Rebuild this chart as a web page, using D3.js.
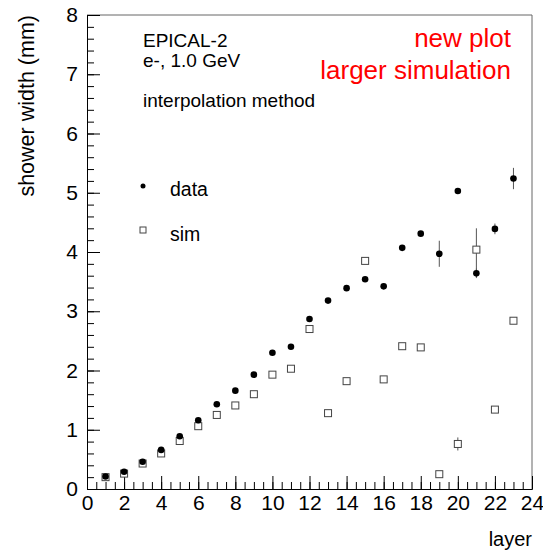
<!DOCTYPE html>
<html><head><meta charset="utf-8">
<script src="https://cdn.jsdelivr.net/npm/d3@7"></script>
<style>body{margin:0;background:#fff}svg{display:block;font-family:"Liberation Sans",Arial,sans-serif}</style>
</head><body><svg id="c" width="543" height="550"></svg>
<script>
const layers = [1,2,3,4,5,6,7,8,9,10,11,12,13,14,15,16,17,18,19,20,21,22,23];
const dataVals = [0.21,0.29,0.46,0.66,0.89,1.16,1.43,1.66,1.93,2.30,2.40,2.87,3.18,3.39,3.54,3.42,4.07,4.31,3.97,5.03,3.64,4.39,5.24];
const dataErr  = [0.01,0.01,0.01,0.01,0.01,0.01,0.01,0.01,0.01,0.01,0.01,0.01,0.01,0.01,0.01,0.01,0.01,0.01,0.22,0.01,0.08,0.09,0.18];
const simVals  = [0.20,0.26,0.43,0.60,0.81,1.06,1.25,1.41,1.60,1.93,2.03,2.70,1.28,1.82,3.85,1.85,2.41,2.39,0.25,0.76,4.04,1.34,2.84];
const simErr   = [0,0,0,0,0,0,0,0,0,0,0,0,0,0,0,0,0,0,0,0.11,0.36,0,0];
const xTicks = [0,2,4,6,8,10,12,14,16,18,20,22,24];
const yTicks = [0,1,2,3,4,5,6,7,8];

const svg = d3.select("#c");
const L=87,R=532,T=15,B=489;
const FONT="Liberation Sans, Arial, sans-serif";
const x = d3.scaleLinear().domain([0,24]).range([L,R]);
const y = d3.scaleLinear().domain([0,8]).range([B,T]);

// frame
svg.append("line").attr("x1",L).attr("x2",R).attr("y1",T).attr("y2",T).attr("stroke","#666");
svg.append("line").attr("x1",R).attr("x2",R).attr("y1",T).attr("y2",B).attr("stroke","#666");

// x axis (ticks inward)
const xa = svg.append("g").attr("transform",`translate(0,${B})`);
xa.call(d3.axisBottom(x).tickValues(d3.range(0,24.01,0.5)).tickSize(-7).tickFormat(""))
  .call(g=>g.select(".domain").attr("stroke","#000"));
xa.append("g").call(d3.axisBottom(x).tickValues(xTicks).tickSize(-13).tickPadding(5).tickFormat(d3.format("d")))
  .call(g=>g.select(".domain").remove())
  .call(g=>g.selectAll("text").attr("font-size",21).attr("fill","#000").attr("dy","0.95em").attr("y",1).attr("font-family",FONT));
xa.selectAll("line").attr("stroke","#000");

// y axis
const ya = svg.append("g").attr("transform",`translate(${L},0)`);
ya.call(d3.axisLeft(y).tickValues(d3.range(0,8.01,0.2)).tickSize(-7).tickFormat(""))
  .call(g=>g.select(".domain").attr("stroke","#000"));
ya.append("g").call(d3.axisLeft(y).tickValues(yTicks).tickSize(-13).tickPadding(9).tickFormat(d3.format("d")))
  .call(g=>g.select(".domain").remove())
  .call(g=>g.selectAll("text").attr("font-size",21).attr("fill","#000").attr("font-family",FONT));
ya.selectAll("line").attr("stroke","#000");

// titles
svg.append("text").attr("x",R).attr("y",546).attr("text-anchor","end").attr("font-size",20).text("layer");
svg.append("text").attr("transform",`translate(34,${T}) rotate(-90)`).attr("text-anchor","end").attr("font-size",21.5).text("shower width (mm)");

// annotations
svg.append("text").attr("x",143).attr("y",47).attr("font-size",19).text("EPICAL-2");
svg.append("text").attr("x",143).attr("y",67).attr("font-size",19).text("e-, 1.0 GeV");
svg.append("text").attr("x",143).attr("y",107).attr("font-size",19).text("interpolation method");
svg.append("text").attr("x",511).attr("y",47).attr("text-anchor","end").attr("font-size",26).attr("fill","#ff0000").text("new plot");
svg.append("text").attr("x",511).attr("y",79).attr("text-anchor","end").attr("font-size",26).attr("fill","#ff0000").text("larger simulation");

// legend
svg.append("circle").attr("cx",143).attr("cy",186).attr("r",2.5).attr("fill","#000");
svg.append("text").attr("x",170).attr("y",196).attr("font-size",19.5).text("data");
svg.append("rect").attr("x",140).attr("y",227).attr("width",6).attr("height",6).attr("fill","#fff").attr("stroke","#444");
svg.append("text").attr("x",170).attr("y",241).attr("font-size",19.5).text("sim");

// error bars
const eb = svg.append("g").attr("stroke","#555").attr("stroke-width",1);
layers.forEach((l,i)=>{
  if(simErr[i]>0.03) eb.append("line").attr("x1",x(l)).attr("x2",x(l)).attr("y1",y(simVals[i]-simErr[i])).attr("y2",y(simVals[i]+simErr[i]));
  if(dataErr[i]>0.03) eb.append("line").attr("x1",x(l)).attr("x2",x(l)).attr("y1",y(dataVals[i]-dataErr[i])).attr("y2",y(dataVals[i]+dataErr[i]));
});

// sim squares
svg.append("g").selectAll("rect").data(layers).join("rect")
  .attr("x",(d)=>x(d)-3.5).attr("y",(d,i)=>y(simVals[i])-3.5).attr("width",7).attr("height",7)
  .attr("fill","#fff").attr("stroke","#444").attr("stroke-width",1);

// data circles
svg.append("g").selectAll("circle").data(layers).join("circle")
  .attr("cx",d=>x(d)).attr("cy",(d,i)=>y(dataVals[i])).attr("r",3.3).attr("fill","#000");
</script></body></html>
